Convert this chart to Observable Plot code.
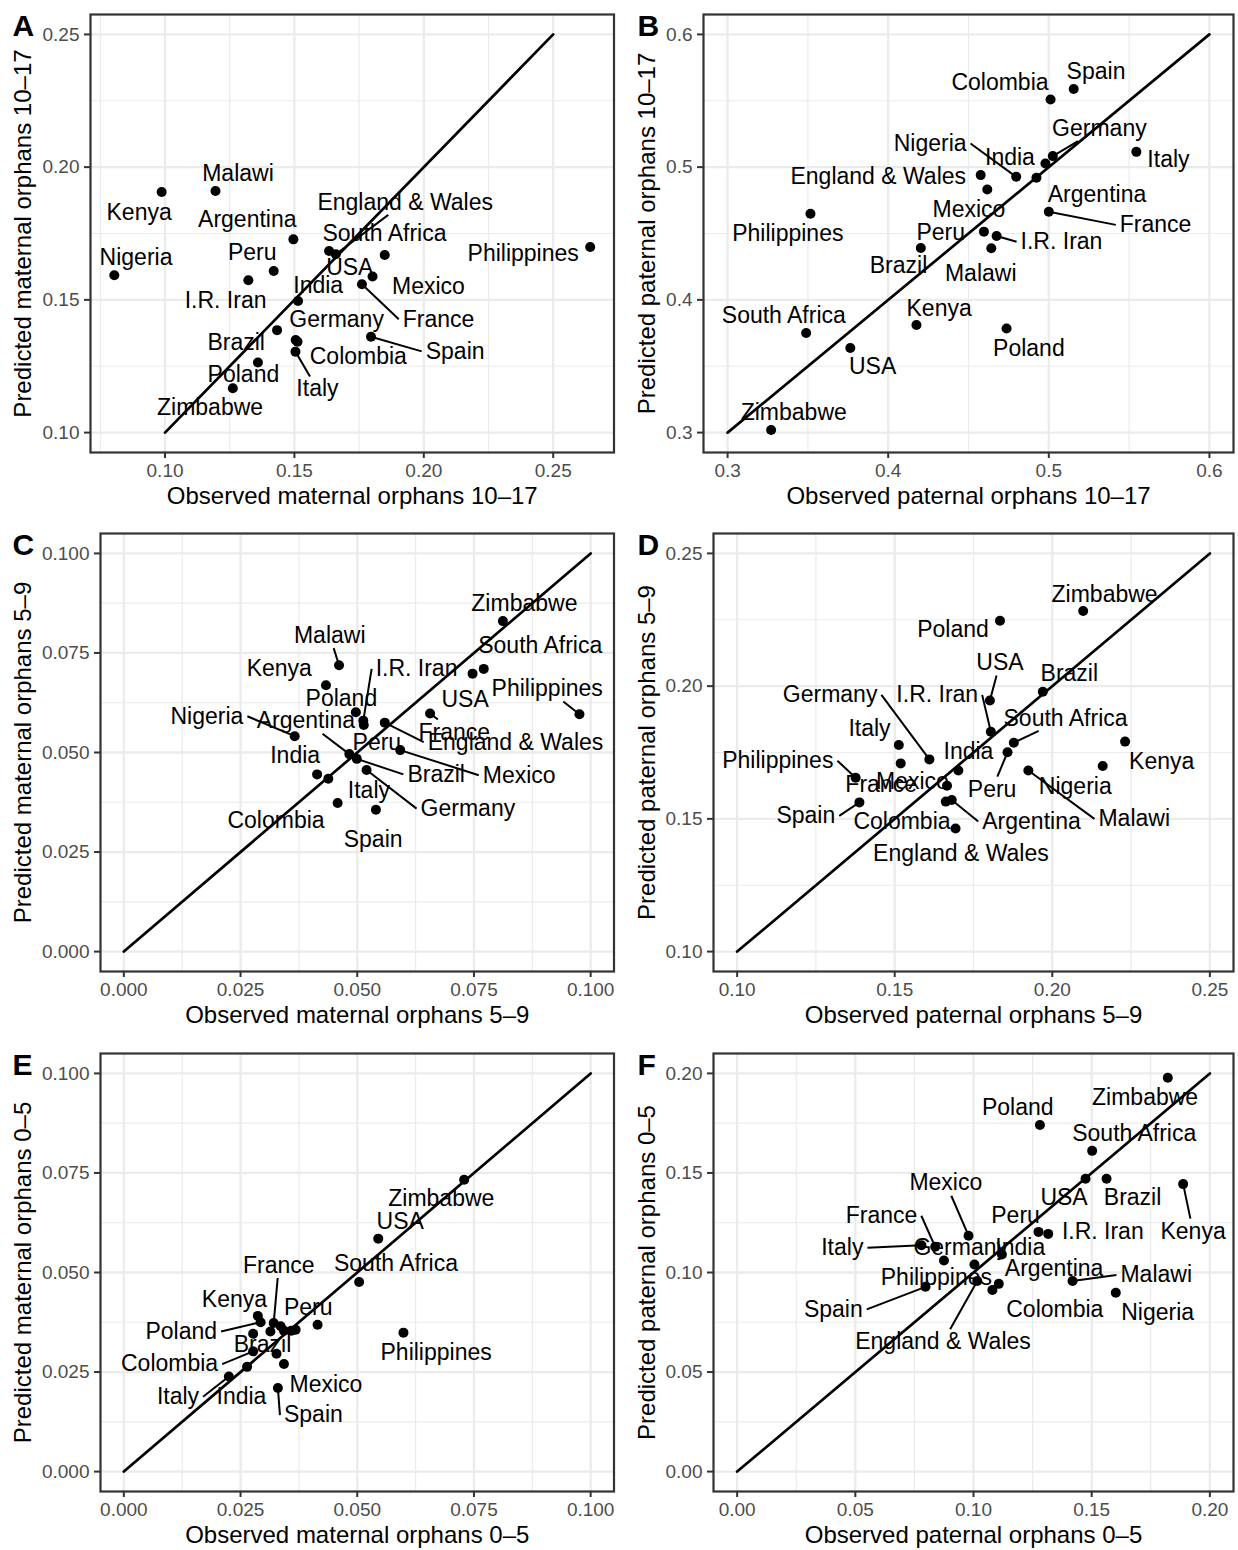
<!DOCTYPE html>
<html><head><meta charset="utf-8">
<script src="https://cdn.jsdelivr.net/npm/d3@7"></script>
<script src="https://cdn.jsdelivr.net/npm/@observablehq/plot@0.6"></script>
<style>
html,body{margin:0;padding:0;background:#fff;}
#chart{position:relative;width:1238px;height:1550px;overflow:hidden;background:#fff;}
#chart svg{position:absolute;}
</style></head><body><div id="chart"></div>
<script>
const countries = ["Argentina","Brazil","Colombia","England & Wales","France","Germany","India","I.R. Iran","Italy","Kenya","Malawi","Mexico","Nigeria","Peru","Philippines","Poland","South Africa","Spain","USA","Zimbabwe"];

// Panel A: maternal 10-17
const aObs  = [0.1496,0.1433,0.1512,0.1660,0.1761,0.1505,0.1514,0.1322,0.1504,0.0987,0.1195,0.1802,0.0804,0.1420,0.2643,0.1359,0.1849,0.1796,0.1634,0.1262];
const aPred = [0.1728,0.1386,0.1342,0.1672,0.1559,0.1349,0.1496,0.1574,0.1305,0.1906,0.1910,0.1588,0.1593,0.1609,0.1699,0.1264,0.1669,0.1361,0.1684,0.1167];
const aLabX = [0.1318,0.1275,0.1747,0.1928,0.2057,0.1663,0.1592,0.1234,0.1589,0.0900,0.1282,0.2018,0.0888,0.1337,0.2384,0.1303,0.1848,0.2121,0.1714,0.1174];
const aLabY = [0.1803,0.1340,0.1286,0.1868,0.1427,0.1427,0.1555,0.1499,0.1164,0.1828,0.1976,0.1550,0.1659,0.1678,0.1673,0.1217,0.1749,0.1306,0.1621,0.1095];
const aLeaders = ["England & Wales","France","Spain","Italy"];

// Panel B: paternal 10-17
const bObs  = [0.4923,0.4203,0.5011,0.4576,0.5000,0.5025,0.4979,0.4675,0.5545,0.4176,0.4642,0.4617,0.4797,0.4596,0.3516,0.4737,0.3489,0.5155,0.3764,0.3271];
const bPred = [0.4920,0.4391,0.5509,0.4940,0.4664,0.5083,0.5028,0.4481,0.5115,0.3810,0.4389,0.4832,0.4927,0.4514,0.4649,0.3784,0.3750,0.5589,0.3637,0.3020];
const bLabX = [0.5300,0.4064,0.4696,0.3938,0.5665,0.5315,0.4758,0.5079,0.5745,0.4317,0.4576,0.4503,0.4261,0.4327,0.3375,0.4876,0.3350,0.5294,0.3903,0.3412];
const bLabY = [0.4795,0.4256,0.5634,0.4932,0.4565,0.5291,0.5075,0.4438,0.5060,0.3937,0.4201,0.4682,0.5178,0.4506,0.4502,0.3634,0.3885,0.5717,0.3496,0.3153];
const bLeaders = ["France","Germany","I.R. Iran","Nigeria"];

// Panel C: maternal 5-9
const cObs  = [0.0483,0.0499,0.0458,0.0559,0.0656,0.0520,0.0414,0.0513,0.0438,0.0433,0.0461,0.0592,0.0366,0.0514,0.0976,0.0497,0.0771,0.0540,0.0747,0.0812];
const cPred = [0.0496,0.0484,0.0373,0.0575,0.0598,0.0456,0.0445,0.0580,0.0434,0.0669,0.0719,0.0506,0.0541,0.0569,0.0596,0.0601,0.0710,0.0356,0.0698,0.0830];
const cLabX = [0.0390,0.0669,0.0326,0.0839,0.0708,0.0737,0.0367,0.0627,0.0525,0.0333,0.0441,0.0847,0.0178,0.0542,0.0907,0.0466,0.0892,0.0534,0.0731,0.0858];
const cLabY = [0.0579,0.0445,0.0328,0.0526,0.0551,0.0359,0.0493,0.0710,0.0405,0.0710,0.0794,0.0443,0.0591,0.0526,0.0660,0.0635,0.0769,0.0280,0.0632,0.0875];
const cLeaders = ["Argentina","Brazil","England & Wales","France","Germany","I.R. Iran","Malawi","Mexico","Nigeria","Philippines"];

// Panel D: paternal 5-9
const dObs  = [0.1681,0.1970,0.1662,0.1693,0.1519,0.1610,0.1702,0.1805,0.1513,0.2231,0.1924,0.1666,0.2160,0.1858,0.1376,0.1834,0.1878,0.1388,0.1802,0.2098];
const dPred = [0.1571,0.1979,0.1565,0.1464,0.1709,0.1724,0.1682,0.1828,0.1778,0.1791,0.1682,0.1625,0.1699,0.1751,0.1655,0.2246,0.1787,0.1562,0.1946,0.2283];
const dLabX = [0.1934,0.2054,0.1523,0.1710,0.1457,0.1295,0.1734,0.1635,0.1420,0.2347,0.2260,0.1556,0.2073,0.1809,0.1129,0.1685,0.2042,0.1218,0.1834,0.2166];
const dLabY = [0.1490,0.2046,0.1490,0.1370,0.1628,0.1967,0.1753,0.1967,0.1841,0.1715,0.1500,0.1640,0.1621,0.1611,0.1719,0.2214,0.1879,0.1511,0.2088,0.2343];
const dLeaders = ["Argentina","Germany","I.R. Iran","Malawi","Peru","Philippines","South Africa","Spain","USA"];

// Panel E: maternal 0-5 (null = label not shown)
const eObs  = [0.0336,0.0327,0.0277,0.0277,0.0321,0.0314,0.0264,0.0343,0.0225,0.0287,0.0359,0.0343,0.0368,0.0415,0.0599,0.0293,0.0504,0.0330,0.0545,0.0729];
const ePred = [0.0365,0.0296,0.0302,0.0346,0.0373,0.0352,0.0263,0.0354,0.0239,0.0391,0.0354,0.0270,0.0356,0.0369,0.0349,0.0375,0.0476,0.0210,0.0585,0.0733];
const eLabX = [null,0.0297,0.0098,null,0.0332,null,0.0252,null,0.0116,0.0237,null,0.0433,null,0.0395,0.0669,0.0123,0.0583,0.0406,0.0592,0.0680];
const eLabY = [null,0.0319,0.0270,null,0.0518,null,0.0188,null,0.0188,0.0433,null,0.0219,null,0.0413,0.0299,0.0352,0.0523,0.0142,0.0629,0.0685];
const eLeaders = ["Colombia","France","Italy","Poland","Spain"];

// Panel F: paternal 0-5
const fObs  = [0.1107,0.1563,0.1080,0.1016,0.0838,0.0875,0.1120,0.1316,0.0780,0.1887,0.1419,0.0979,0.1602,0.1275,0.1004,0.1281,0.1502,0.0797,0.1474,0.1822];
const fPred = [0.0943,0.1471,0.0912,0.0957,0.1129,0.1060,0.1090,0.1194,0.1137,0.1444,0.0957,0.1185,0.0898,0.1204,0.1040,0.1741,0.1611,0.0928,0.1471,0.1978];
const fLabX = [0.1341,0.1673,0.1344,0.0871,0.0611,0.0946,0.1198,0.1547,0.0445,0.1929,0.1773,0.0883,0.1779,0.1178,0.0843,0.1187,0.1680,0.0407,0.1383,0.1726];
const fLabY = [0.1020,0.1374,0.0815,0.0651,0.1285,0.1124,0.1124,0.1207,0.1124,0.1207,0.0987,0.1449,0.0798,0.1285,0.0973,0.1830,0.1700,0.0815,0.1374,0.1880];
const fLeaders = ["England & Wales","France","Italy","Kenya","Malawi","Mexico","Spain"];

// identity line extents and tick values
const diagA = [0.10,0.25], diagB = [0.3,0.6], diagC = [0,0.1], diagD = [0.10,0.25], diagE = [0,0.1], diagF = [0,0.2];
const ticksA = [0.10,0.15,0.20,0.25];
const ticksB = [0.3,0.4,0.5,0.6];
const ticksC = [0,0.025,0.05,0.075,0.1];
const ticksD = [0.10,0.15,0.20,0.25];
const ticksE = [0,0.025,0.05,0.075,0.1];
const ticksF = [0,0.05,0.10,0.15,0.20];
const letters = ["A","B","C","D","E","F"];
const xTitles = ["Observed maternal orphans 10\u201317","Observed paternal orphans 10\u201317","Observed maternal orphans 5\u20139","Observed paternal orphans 5\u20139","Observed maternal orphans 0\u20135","Observed paternal orphans 0\u20135"];
const yTitles = ["Predicted maternal orphans 10\u201317","Predicted paternal orphans 10\u201317","Predicted maternal orphans 5\u20139","Predicted paternal orphans 5\u20139","Predicted maternal orphans 0\u20135","Predicted paternal orphans 0\u20135"];

const FONT = '"Liberation Sans", Arial, Helvetica, sans-serif';
const LABEL_SIZE = 23;
const ctx = document.createElement("canvas").getContext("2d");
function textW(s, size) { ctx.font = `${size}px "Liberation Sans"`; return ctx.measureText(s).width; }

function expand(vals) {
  const lo = d3.min(vals), hi = d3.max(vals), p = (hi - lo) * 0.05;
  return [lo - p, hi + p];
}
function minorBreaks(ticks, dom) {
  const d = ticks[1] - ticks[0];
  const ext = [ticks[0] - d, ...ticks, ticks[ticks.length - 1] + d];
  const out = [];
  for (let i = 0; i < ext.length - 1; i++) {
    const m = (ext[i] + ext[i + 1]) / 2;
    if (m >= dom[0] && m <= dom[1]) out.push(m);
  }
  return out;
}

function makePanel(p) {
  const data = countries.map((c, i) => ({c, x: p.obs[i], y: p.pred[i], lx: p.labX[i], ly: p.labY[i]}));
  const xd = expand([...p.obs, ...p.diag]);
  const yd = expand([...p.pred, ...p.diag]);
  const kx = (p.width - p.ml - p.mr) / (xd[1] - xd[0]);
  const ky = (p.height - p.mt - p.mb) / (yd[1] - yd[0]);
  const labeled = data.filter(d => d.lx != null);
  const links = [];
  for (const d of labeled) {
    if (!p.leaders.includes(d.c)) continue;
    const W = textW(d.c, LABEL_SIZE) / 2 + 4, H = LABEL_SIZE * 0.42 + 3;
    const dxp = (d.x - d.lx) * kx, dyp = (d.ly - d.y) * ky;
    let ex, ey;
    if (Math.abs(dxp) > W) { ex = Math.sign(dxp) * W; ey = 0; }
    else if (Math.abs(dyp) > H) { ey = Math.sign(dyp) * H; ex = dxp * H / Math.abs(dyp); }
    else continue;
    links.push({x1: d.x, y1: d.y, x2: d.lx + ex / kx, y2: d.ly - ey / ky});
  }
  const diagData = [{x: p.diag[0], y: p.diag[0]}, {x: p.diag[1], y: p.diag[1]}];
  const fmt = d3.format(p.fmt);
  const svg = Plot.plot({
    width: p.width, height: p.height,
    marginLeft: p.ml, marginRight: p.mr, marginTop: p.mt, marginBottom: p.mb,
    style: {fontFamily: FONT, background: "white", overflow: "visible"},
    x: {domain: xd}, y: {domain: yd},
    marks: [
      Plot.ruleX(minorBreaks(p.ticks, xd), {stroke: "#EBEBEB", strokeWidth: 1.2}),
      Plot.ruleY(minorBreaks(p.ticks, yd), {stroke: "#EBEBEB", strokeWidth: 1.2}),
      Plot.ruleX(p.ticks, {stroke: "#EBEBEB", strokeWidth: 2.3}),
      Plot.ruleY(p.ticks, {stroke: "#EBEBEB", strokeWidth: 2.3}),
      Plot.line(diagData, {x: "x", y: "y", stroke: "black", strokeWidth: 2.7}),
      Plot.link(links, {x1: "x1", y1: "y1", x2: "x2", y2: "y2", stroke: "black", strokeWidth: 2}),
      Plot.dot(data, {x: "x", y: "y", r: 5, fill: "black", stroke: "none"}),
      Plot.text(labeled, {x: "lx", y: "ly", text: "c", fontSize: LABEL_SIZE, fill: "black"}),
      Plot.frame({stroke: "#333333", strokeWidth: 2.2}),
      Plot.axisX(p.ticks, {tickFormat: fmt, tickSize: 6, tickPadding: 5, fontSize: 19, stroke: "#333333", fill: "#4D4D4D", strokeWidth: 2, label: null}),
      Plot.axisY(p.ticks, {tickFormat: fmt, tickSize: 6, tickPadding: 5, fontSize: 19, stroke: "#333333", fill: "#4D4D4D", strokeWidth: 2, label: null}),
      Plot.text([p.xTitle], {text: d => d, frameAnchor: "bottom", dy: 44, textAnchor: "middle", lineAnchor: "middle", fontSize: 24, fill: "black"}),
      Plot.text([p.yTitle], {text: d => d, frameAnchor: "left", dx: 22.5 - p.ml, rotate: -90, textAnchor: "middle", lineAnchor: "middle", fontSize: 24, fill: "black"}),
      Plot.text([p.letter], {text: d => d, frameAnchor: "top-left", dx: p.lx0 - p.ml, dy: 0, textAnchor: "start", lineAnchor: "top", fontSize: 30, fontWeight: "bold", fill: "black"})
    ]
  });
  svg.style.left = p.left + "px";
  svg.style.top = p.top + "px";
  document.getElementById("chart").appendChild(svg);
}

const rows = [{top: 0, height: 519, mb: 67}, {top: 519, height: 519, mb: 67}, {top: 1039, height: 511, mb: 59}];
const cols = [{left: 0, width: 619, mr: 5.5, lx0: 12}, {left: 624, width: 614, mr: 5, lx0: 13}];
const panels = [
  {obs: aObs, pred: aPred, labX: aLabX, labY: aLabY, leaders: aLeaders, diag: diagA, ticks: ticksA, fmt: ".2f", ml: 90},
  {obs: bObs, pred: bPred, labX: bLabX, labY: bLabY, leaders: bLeaders, diag: diagB, ticks: ticksB, fmt: ".1f", ml: 79},
  {obs: cObs, pred: cPred, labX: cLabX, labY: cLabY, leaders: cLeaders, diag: diagC, ticks: ticksC, fmt: ".3f", ml: 100},
  {obs: dObs, pred: dPred, labX: dLabX, labY: dLabY, leaders: dLeaders, diag: diagD, ticks: ticksD, fmt: ".2f", ml: 89},
  {obs: eObs, pred: ePred, labX: eLabX, labY: eLabY, leaders: eLeaders, diag: diagE, ticks: ticksE, fmt: ".3f", ml: 100},
  {obs: fObs, pred: fPred, labX: fLabX, labY: fLabY, leaders: fLeaders, diag: diagF, ticks: ticksF, fmt: ".2f", ml: 89}
];
panels.forEach((p, i) => {
  const r = rows[Math.floor(i / 2)], c = cols[i % 2];
  makePanel(Object.assign({}, p, {
    left: c.left, width: c.width, mr: c.mr, lx0: c.lx0,
    top: r.top, height: r.height, mb: r.mb, mt: 14,
    letter: letters[i], xTitle: xTitles[i], yTitle: yTitles[i]
  }));
});
</script></body></html>
